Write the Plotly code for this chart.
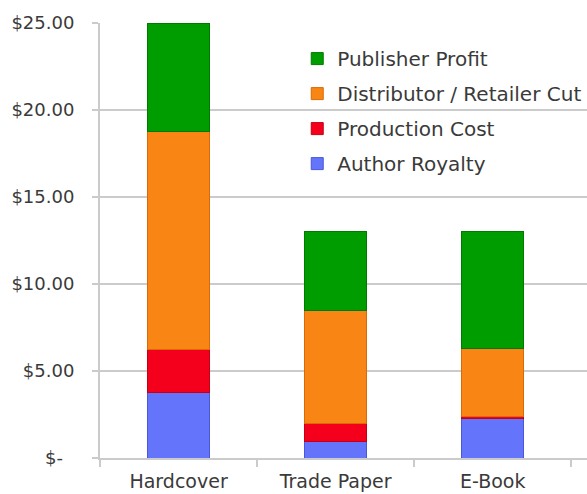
import plotly.graph_objects as go

# Book price breakdown by format (US dollars per copy)
categories = ["Hardcover", "Trade Paper", "E-Book"]
author_royalty = [3.75, 0.975, 2.275]
production_cost = [2.50, 1.00, 0.10]
distributor_cut = [12.50, 6.50, 3.90]
publisher_profit = [6.25, 4.525, 6.725]

y_tick_values = [0, 5, 10, 15, 20, 25]
y_tick_labels = ["$-\u00a0\u00a0", "$5.00", "$10.00", "$15.00", "$20.00", "$25.00"]

# stack order bottom->top; legend lists them top->bottom
series = [
    ("Author Royalty", author_royalty, "#6474fb", "#4a58d8", 4),
    ("Production Cost", production_cost, "#f5001c", "#c40014", 3),
    ("Distributor / Retailer Cut", distributor_cut, "#f98514", "#d86a08", 2),
    ("Publisher Profit", publisher_profit, "#009d00", "#007a00", 1),
]

x_pos = list(range(len(categories)))

fig = go.Figure()
for name, vals, color, edge, rank in series:
    fig.add_trace(go.Bar(
        x=x_pos, y=vals, name=name, width=0.395,
        marker=dict(color=color, line=dict(color=edge, width=1)),
        legendgroup=name, legendrank=rank,
    ))

font_color = "#3a3a3a"
grid_color = "#cbcbcb"

fig.update_layout(
    barmode="stack",
    width=587, height=494,
    margin=dict(l=100, r=0, t=23, b=36, autoexpand=False),
    paper_bgcolor="white", plot_bgcolor="white",
    font=dict(family="DejaVu Sans", size=18, color=font_color),
    showlegend=True,
    legend=dict(
        x=0.405, y=0.963, xanchor="left", yanchor="top",
        traceorder="grouped", tracegroupgap=6,
        itemwidth=30, bgcolor="rgba(0,0,0,0)",
        font=dict(size=20, color=font_color),
    ),
    xaxis=dict(
        range=[-0.5, 2.6],
        tickvals=x_pos, ticktext=categories,
        ticks="", showgrid=False,
        showline=True, linecolor=grid_color, linewidth=2,
        tickfont=dict(size=19),
        ticklabelstandoff=5,
        automargin=False,
        minor=dict(ticks="outside", tick0=0.5, dtick=1, ticklen=7,
                   tickcolor=grid_color, tickwidth=2, showgrid=False),
        zeroline=False,
    ),
    yaxis=dict(
        range=[0, 25],
        tickvals=y_tick_values, ticktext=y_tick_labels,
        showgrid=True, gridcolor=grid_color, gridwidth=2,
        ticks="outside", ticklen=6, tickcolor=grid_color, tickwidth=2,
        showline=True, linecolor=grid_color, linewidth=2,
        ticklabelstandoff=14,
        automargin=False,
        zeroline=False,
    ),
)

fig.write_html("out.html")
